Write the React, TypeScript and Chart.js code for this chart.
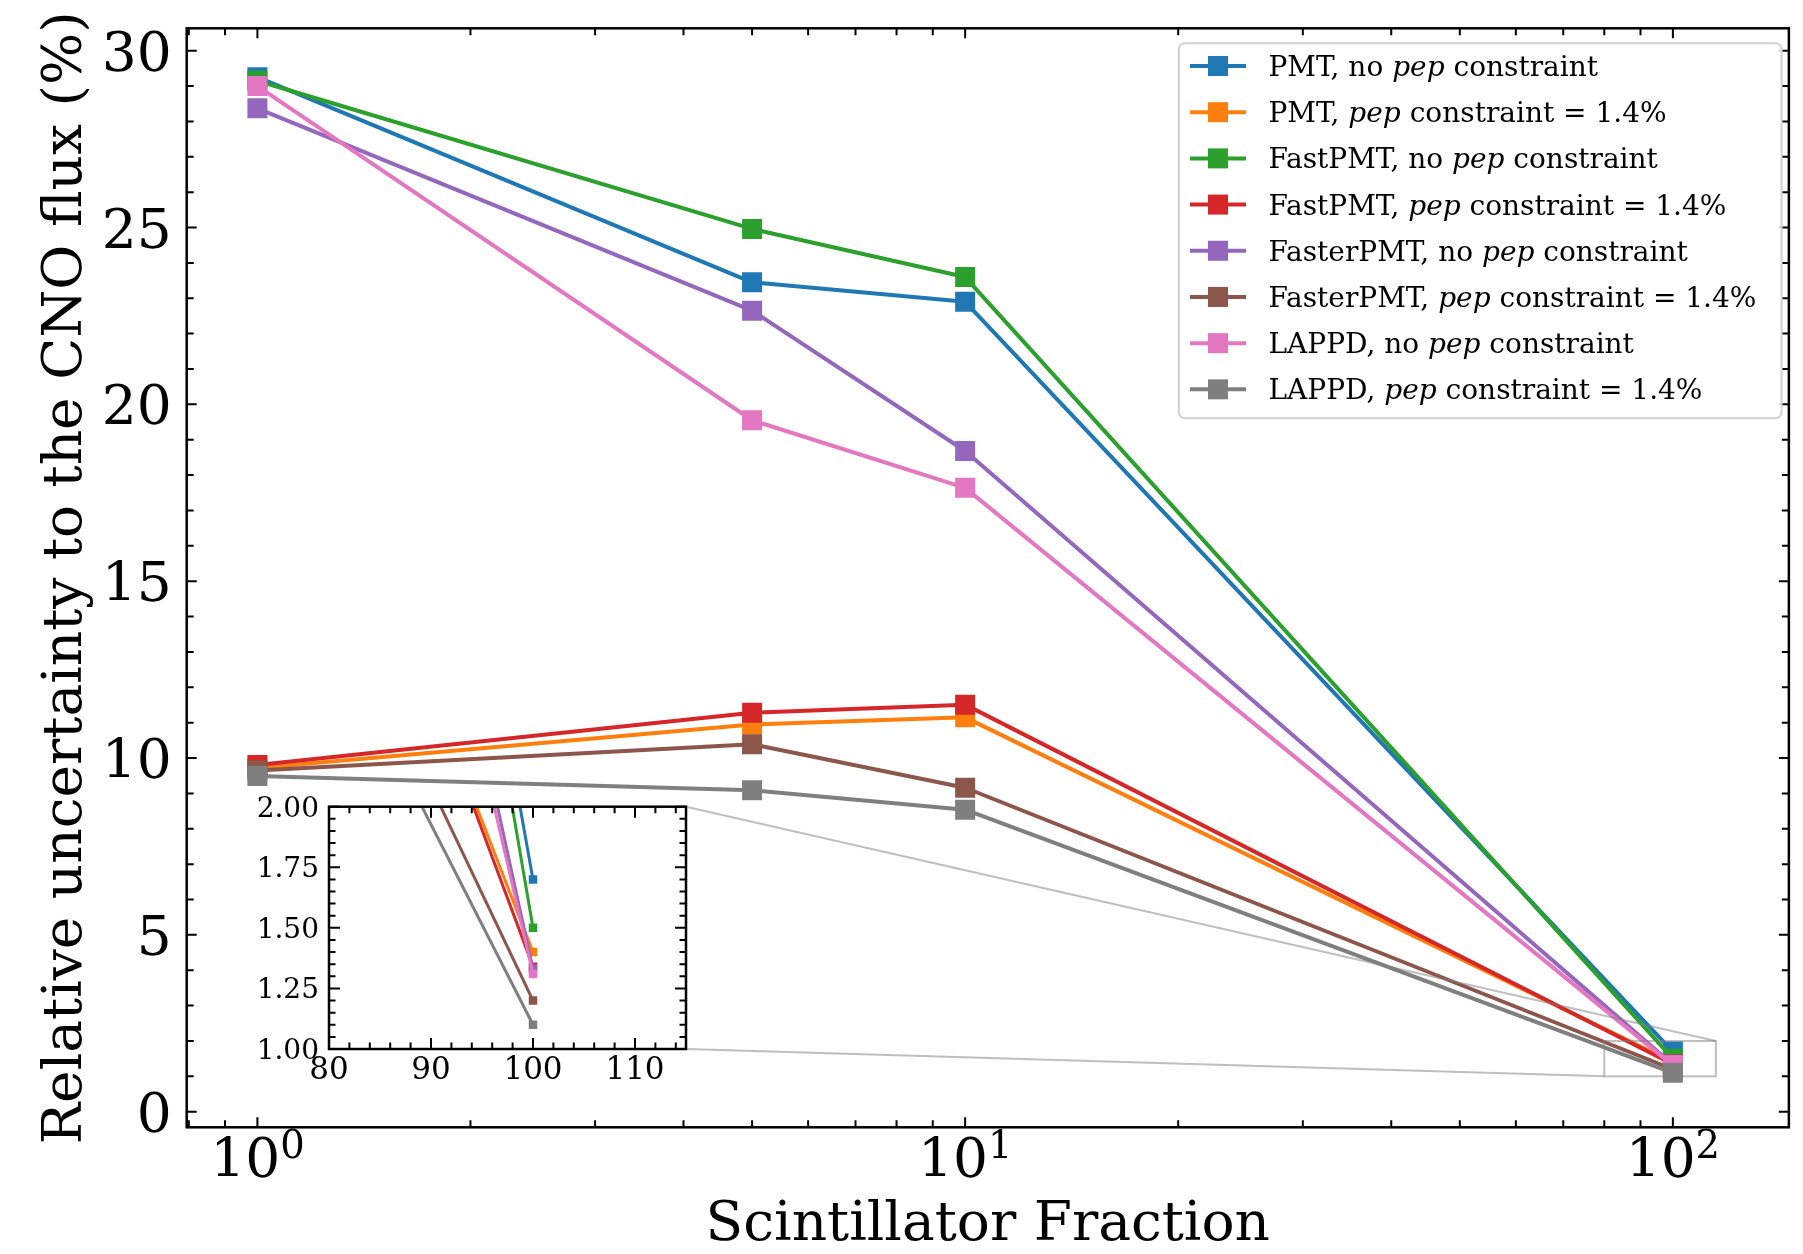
import React, { useEffect, useRef } from "react";
import { Chart, registerables } from "chart.js";

Chart.register(...registerables);

// ---------------- data ----------------
const fractions = [1, 5, 10, 100];

const seriesLabels = [
  "PMT, no pep constraint",
  "PMT, pep constraint = 1.4%",
  "FastPMT, no pep constraint",
  "FastPMT, pep constraint = 1.4%",
  "FasterPMT, no pep constraint",
  "FasterPMT, pep constraint = 1.4%",
  "LAPPD, no pep constraint",
  "LAPPD, pep constraint = 1.4%",
];

const pmtNoPep = [29.25, 23.45, 22.9, 1.7];
const pmtPep = [9.72, 10.95, 11.15, 1.4];
const fastNoPep = [29.15, 24.96, 23.6, 1.5];
const fastPep = [9.8, 11.28, 11.51, 1.34];
const fasterNoPep = [28.37, 22.65, 18.68, 1.33];
const fasterPep = [9.65, 10.39, 9.16, 1.2];
const lappdNoPep = [29.0, 19.55, 17.64, 1.31];
const lappdPep = [9.49, 9.09, 8.54, 1.1];

const allSeries = [pmtNoPep, pmtPep, fastNoPep, fastPep, fasterNoPep, fasterPep, lappdNoPep, lappdPep];

const yTicks = [0, 5, 10, 15, 20, 25, 30];
const xTickExponents = [0, 1, 2];
const insetXTicks = [80, 90, 100, 110];
const insetYTicks = [1.0, 1.25, 1.5, 1.75, 2.0];

const xTitle = "Scintillator Fraction";
const yTitle = "Relative uncertainty to the CNO flux (%)";

// zoom region shown by the inset
const zoomX = [80, 115];
const zoomY = [1, 2];

// ---------------- style / layout ----------------
const COLORS = ["#1f77b4", "#ff7f0e", "#2ca02c", "#d62728", "#9467bd", "#8c564b", "#e377c2", "#7f7f7f"];
const W = 1803;
const H = 1254;
const MAIN_PAD = { left: 186.7, top: 28.3, right: 7.5, bottom: 126.7 };
const INSET_BOX = { left: 230, top: 780, width: 480, height: 320 };
const INSET_PAD = { left: 99, top: 26.7, right: 24, bottom: 51 };
const FONT = '"DejaVu Serif", serif';
const MAIN_LW = 4;
const INSET_LW = 3;

type Tick = { p: number; major: boolean };

function drawTickMarks(ctx: CanvasRenderingContext2D, area: any, xs: Tick[], ys: Tick[], majorLen: number, minorLen: number, lw: number) {
  ctx.save();
  ctx.strokeStyle = "#000";
  ctx.lineWidth = lw;
  ctx.beginPath();
  for (const t of xs) {
    const len = t.major ? majorLen : minorLen;
    ctx.moveTo(t.p, area.bottom);
    ctx.lineTo(t.p, area.bottom - len);
    ctx.moveTo(t.p, area.top);
    ctx.lineTo(t.p, area.top + len);
  }
  for (const t of ys) {
    const len = t.major ? majorLen : minorLen;
    ctx.moveTo(area.left, t.p);
    ctx.lineTo(area.left + len, t.p);
    ctx.moveTo(area.right, t.p);
    ctx.lineTo(area.right - len, t.p);
  }
  ctx.stroke();
  ctx.restore();
}

function drawFrame(ctx: CanvasRenderingContext2D, area: any, lw: number) {
  ctx.save();
  ctx.strokeStyle = "#000";
  ctx.lineWidth = lw;
  ctx.strokeRect(area.left, area.top, area.right - area.left, area.bottom - area.top);
  ctx.restore();
}

function drawLabelWithItalic(ctx: CanvasRenderingContext2D, text: string, x: number, y: number, size: number) {
  const parts = text.split("pep");
  let cx = x;
  parts.forEach((part, idx) => {
    ctx.font = `${size}px ${FONT}`;
    ctx.fillText(part, cx, y);
    cx += ctx.measureText(part).width;
    if (idx < parts.length - 1) {
      ctx.font = `italic ${size}px ${FONT}`;
      ctx.fillText("pep", cx, y);
      cx += ctx.measureText("pep").width;
    }
  });
}

function drawLegend(ctx: CanvasRenderingContext2D, chart: any) {
  const box = { x: 1178.9, y: 43.3, w: 602.7, h: 375 };
  const r = 6;
  ctx.save();
  ctx.beginPath();
  ctx.moveTo(box.x + r, box.y);
  ctx.arcTo(box.x + box.w, box.y, box.x + box.w, box.y + box.h, r);
  ctx.arcTo(box.x + box.w, box.y + box.h, box.x, box.y + box.h, r);
  ctx.arcTo(box.x, box.y + box.h, box.x, box.y, r);
  ctx.arcTo(box.x, box.y, box.x + box.w, box.y, r);
  ctx.closePath();
  ctx.fillStyle = "rgba(255,255,255,0.8)";
  ctx.fill();
  ctx.strokeStyle = "#d0d0d0";
  ctx.lineWidth = 2;
  ctx.stroke();

  chart.data.datasets.forEach((ds: any, i: number) => {
    const cy = 66 + i * 46.19;
    ctx.strokeStyle = ds.borderColor;
    ctx.lineWidth = MAIN_LW;
    ctx.beginPath();
    ctx.moveTo(1190, cy);
    ctx.lineTo(1246, cy);
    ctx.stroke();
    ctx.fillStyle = ds.borderColor;
    ctx.fillRect(1218 - 10, cy - 10, 20, 20);
    ctx.fillStyle = "#000";
    ctx.textAlign = "left";
    ctx.textBaseline = "alphabetic";
    drawLabelWithItalic(ctx, ds.label, 1268.5, cy + 10, 28);
  });
  ctx.restore();
}

const mainDecor = {
  id: "mainDecor",
  afterDatasetsDraw(chart: any) {
    const ctx: CanvasRenderingContext2D = chart.ctx;
    const xs = chart.scales.x;
    const ys = chart.scales.y;
    // zoom indicator rectangle and connectors
    const rx0 = xs.getPixelForValue(zoomX[0]);
    const rx1 = xs.getPixelForValue(zoomX[1]);
    const ry0 = ys.getPixelForValue(zoomY[0]);
    const ry1 = ys.getPixelForValue(zoomY[1]);
    const insetRight = INSET_BOX.left + INSET_BOX.width - INSET_PAD.right;
    const insetTop = INSET_BOX.top + INSET_PAD.top;
    const insetBottom = INSET_BOX.top + INSET_BOX.height - INSET_PAD.bottom;
    ctx.save();
    ctx.strokeStyle = "rgba(128,128,128,0.5)";
    ctx.lineWidth = 2;
    ctx.strokeRect(rx0, ry1, rx1 - rx0, ry0 - ry1);
    ctx.beginPath();
    ctx.moveTo(insetRight, insetTop);
    ctx.lineTo(rx1, ry1);
    ctx.moveTo(insetRight, insetBottom);
    ctx.lineTo(rx0, ry0);
    ctx.stroke();
    ctx.restore();
  },
  afterDraw(chart: any) {
    const ctx: CanvasRenderingContext2D = chart.ctx;
    const area = chart.chartArea;
    const xs = chart.scales.x;
    const ys = chart.scales.y;

    // ticks
    const xt: Tick[] = [];
    for (let d = -1; d <= 2; d++) {
      for (let m = 1; m <= 9; m++) {
        const v = m * Math.pow(10, d);
        if (v >= xs.min && v <= xs.max) xt.push({ p: xs.getPixelForValue(v), major: m === 1 });
      }
    }
    const yt: Tick[] = [];
    for (let v = 0; v <= 30; v++) {
      yt.push({ p: ys.getPixelForValue(v), major: v % 5 === 0 });
    }
    drawTickMarks(ctx, area, xt, yt, 10, 7, 2);
    drawFrame(ctx, area, 2.5);

    ctx.save();
    ctx.fillStyle = "#000";
    // y tick labels
    ctx.font = `55px ${FONT}`;
    ctx.textAlign = "right";
    ctx.textBaseline = "alphabetic";
    for (const v of yTicks) {
      ctx.fillText(String(v), area.left - 15, ys.getPixelForValue(v) + 20);
    }
    // x tick labels 10^n
    for (const e of xTickExponents) {
      const px = xs.getPixelForValue(Math.pow(10, e));
      ctx.font = `55px ${FONT}`;
      const wBase = ctx.measureText("10").width;
      ctx.font = `38.5px ${FONT}`;
      const wExp = ctx.measureText(String(e)).width;
      const start = px - (wBase + wExp) / 2;
      ctx.textAlign = "left";
      ctx.font = `55px ${FONT}`;
      ctx.fillText("10", start, 1177);
      ctx.font = `38.5px ${FONT}`;
      ctx.fillText(String(e), start + wBase, 1158);
    }
    // axis titles
    ctx.font = `55px ${FONT}`;
    ctx.textAlign = "center";
    ctx.fillText(xTitle, (area.left + area.right) / 2, 1240);
    ctx.translate(81, (area.top + area.bottom) / 2);
    ctx.rotate(-Math.PI / 2);
    ctx.fillText(yTitle, 0, 0);
    ctx.restore();

    drawLegend(ctx, chart);
  },
};

const insetDecor = {
  id: "insetDecor",
  beforeDatasetsDraw(chart: any) {
    const ctx: CanvasRenderingContext2D = chart.ctx;
    const a = chart.chartArea;
    ctx.save();
    ctx.fillStyle = "#ffffff";
    ctx.fillRect(a.left, a.top, a.right - a.left, a.bottom - a.top);
    ctx.restore();
  },
  afterDraw(chart: any) {
    const ctx: CanvasRenderingContext2D = chart.ctx;
    const area = chart.chartArea;
    const xs = chart.scales.x;
    const ys = chart.scales.y;
    const xt: Tick[] = [];
    for (let v = 80; v <= 115; v += 2) {
      xt.push({ p: xs.getPixelForValue(v), major: v % 10 === 0 });
    }
    const yt: Tick[] = [];
    for (let k = 0; k <= 20; k++) {
      const v = 1 + k * 0.05;
      yt.push({ p: ys.getPixelForValue(v), major: k % 5 === 0 });
    }
    drawTickMarks(ctx, area, xt, yt, 11, 6.5, 2);
    drawFrame(ctx, area, 2.5);
    ctx.save();
    ctx.fillStyle = "#000";
    ctx.textBaseline = "alphabetic";
    ctx.font = `28px ${FONT}`;
    ctx.textAlign = "right";
    for (const v of insetYTicks) {
      ctx.fillText(v.toFixed(2), area.left - 10, ys.getPixelForValue(v) + 10);
    }
    ctx.font = `31px ${FONT}`;
    ctx.textAlign = "center";
    for (const v of insetXTicks) {
      ctx.fillText(String(v), xs.getPixelForValue(v), area.bottom + 30);
    }
    ctx.restore();
  },
};

function buildDatasets(lineWidth: number, radius: number) {
  return allSeries.map((vals, i) => ({
    label: seriesLabels[i],
    data: fractions.map((f, j) => ({ x: f, y: vals[j] })),
    borderColor: COLORS[i],
    backgroundColor: COLORS[i],
    pointBackgroundColor: COLORS[i],
    pointBorderColor: COLORS[i],
    pointBorderWidth: 0,
    borderWidth: lineWidth,
    borderJoinStyle: "round" as const,
    pointStyle: "rect" as const,
    pointRadius: radius,
    pointHoverRadius: radius,
    tension: 0,
    order: allSeries.length - 1 - i,
  }));
}

export default function App() {
  const mainRef = useRef<HTMLCanvasElement | null>(null);
  const insetRef = useRef<HTMLCanvasElement | null>(null);

  useEffect(() => {
    if (!mainRef.current || !insetRef.current) return;
    const main = new Chart(mainRef.current, {
      type: "line",
      data: { datasets: buildDatasets(MAIN_LW, 14.14) as any },
      options: {
        animation: false,
        responsive: false,
        devicePixelRatio: 1,
        events: [],
        layout: { padding: MAIN_PAD },
        plugins: { legend: { display: false }, tooltip: { enabled: false } },
        scales: {
          x: { type: "logarithmic", min: 0.7945, max: 145.84, display: false },
          y: { type: "linear", min: -0.441, max: 30.633, display: false },
        },
      },
      plugins: [mainDecor],
    });
    const inset = new Chart(insetRef.current, {
      type: "line",
      data: { datasets: buildDatasets(INSET_LW, 6) as any },
      options: {
        animation: false,
        responsive: false,
        devicePixelRatio: 1,
        events: [],
        layout: { padding: INSET_PAD },
        plugins: { legend: { display: false }, tooltip: { enabled: false } },
        scales: {
          x: { type: "linear", min: zoomX[0], max: zoomX[1], display: false },
          y: { type: "linear", min: zoomY[0], max: zoomY[1], display: false },
        },
      },
      plugins: [insetDecor],
    });
    return () => {
      main.destroy();
      inset.destroy();
    };
  }, []);

  return (
    <div style={{ position: "fixed", left: 0, top: 0, width: W, height: H, background: "#fff" }}>
      <canvas ref={mainRef} width={W} height={H} style={{ position: "absolute", left: 0, top: 0, width: W, height: H }} />
      <canvas
        ref={insetRef}
        width={INSET_BOX.width}
        height={INSET_BOX.height}
        style={{ position: "absolute", left: INSET_BOX.left, top: INSET_BOX.top, width: INSET_BOX.width, height: INSET_BOX.height, zIndex: 1 }}
      />
    </div>
  );
}
